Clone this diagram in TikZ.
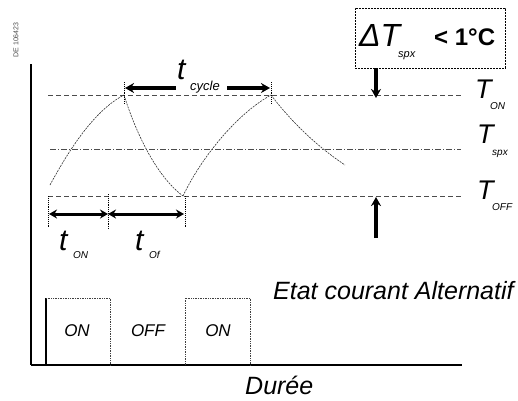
\documentclass[tikz,border=0pt]{standalone}
\usepackage{fontspec}
\setmainfont{Liberation Sans}
\usetikzlibrary{arrows.meta}
\begin{document}
\begin{tikzpicture}[x=1pt,y=-1pt,
  axis/.style={line width=1.8pt,black},
  wave/.style={densely dotted,line width=0.7pt,black!75},
  level/.style={dash pattern=on 5pt off 3pt,line width=0.5pt,black!70},
  levelsp/.style={dash pattern=on 6pt off 2pt on 1pt off 2pt,line width=0.5pt,black!70},
  curve/.style={dash pattern=on 2pt off 1pt,line width=0.6pt,black!80},
  marker/.style={densely dotted,line width=0.9pt,black},
  bigarrow/.style={line width=3.2pt,arrows={-Stealth[length=9pt,width=10pt]}},
  twoheads/.style={solid,line width=3pt,arrows={Stealth[length=8pt,width=9pt]-Stealth[length=8pt,width=9pt]}},
  lab/.style={inner sep=0pt,anchor=base west,font=\itshape},
  boxtxt/.style={inner sep=0pt,font=\itshape\fontsize{17}{20}\selectfont}]
\useasboundingbox (0,0) rectangle (518,400);

% vertical reference text
\node[rotate=90,inner sep=0pt,font=\fontsize{7}{8}\selectfont,black!70] (ref) at (16,40) {DE 106423};

% axes
\coordinate (axtop) at (31,64);
\coordinate (axorig) at (31,365);
\coordinate (axend) at (462,365);
\draw[axis] (axtop) -- (axorig);
\draw[line width=1.2pt] (axorig) -- (axend);

% square wave
\coordinate (w0) at (46,365);
\coordinate (w1) at (46,298);
\coordinate (w2) at (110,298);
\coordinate (w3) at (110,365);
\coordinate (w5) at (185,365);
\coordinate (w6) at (185,298);
\coordinate (w7) at (250,298);
\coordinate (w8) at (250,365);
\draw[axis] (w0) -- (w1);
\draw[wave] (w1) -- (w2) -- (w3);
\draw[wave] (w5) -- (w6) -- (w7) -- (w8);
\node[boxtxt] (on1) at (77,331) {ON};
\node[boxtxt] (off1) at (148,331) {OFF};
\node[boxtxt] (on2) at (218,331) {ON};

% temperature levels
\coordinate (lon1) at (48,95);   \coordinate (lon2) at (461,95);
\coordinate (lsp1) at (50,149);  \coordinate (lsp2) at (461,149);
\coordinate (loff1) at (48,196); \coordinate (loff2) at (461,196);
\draw[level] (lon1) -- (lon2);
\draw[levelsp] (lsp1) -- (lsp2);
\draw[level] (loff1) -- (loff2);

% temperature curve
\coordinate (p0) at (50,185);
\coordinate (p1) at (124,95);
\coordinate (p2) at (183,196);
\coordinate (p3) at (271,95);
\coordinate (p4) at (345,165);
\draw[curve] (p0) .. controls (70,148) and (95,110) .. (p1);
\draw[curve] (p1) .. controls (135,130) and (155,175) .. (p2);
\draw[curve] (p2) .. controls (200,160) and (235,115) .. (p3);
\draw[curve] (p3) .. controls (290,120) and (315,145) .. (p4);

% cycle markers
\coordinate (mc1a) at (124,82); \coordinate (mc1b) at (124,104);
\coordinate (mc2a) at (271,82); \coordinate (mc2b) at (271,104);
\draw[marker] (mc1a) -- (mc1b);
\draw[marker] (mc2a) -- (mc2b);
\coordinate (cl) at (176,88); \coordinate (ca) at (125,88);
\coordinate (cr) at (227,88); \coordinate (cb) at (270,88);
\draw[bigarrow] (cl) -- (ca);
\draw[bigarrow] (cr) -- (cb);
\node[lab,font=\itshape\fontsize{30}{32}\selectfont] (tc) at (177,79) {t};
\node[lab,font=\itshape\fontsize{13}{14}\selectfont] (tcs) at (190,90) {cycle};

% t_ON / t_OFF markers
\coordinate (ma1) at (48,196);  \coordinate (ma2) at (48,228);
\coordinate (mb1) at (108,194); \coordinate (mb2) at (108,230);
\coordinate (md1) at (185,196); \coordinate (md2) at (185,228);
\draw[marker] (ma1) -- (ma2);
\draw[marker] (mb1) -- (mb2);
\draw[marker] (md1) -- (md2);
\coordinate (da) at (49,214); \coordinate (db) at (108,214); \coordinate (dd) at (184,214);
\draw[twoheads] (da) -- (db);
\draw[twoheads] (db) -- (dd);
\node[lab,font=\itshape\fontsize{30}{32}\selectfont] (ton) at (59,250) {t};
\node[lab,font=\itshape\fontsize{10}{11}\selectfont] (tons) at (73,258) {ON};
\node[lab,font=\itshape\fontsize{30}{32}\selectfont] (toff) at (135,250) {t};
\node[lab,font=\itshape\fontsize{10}{11}\selectfont] (toffs) at (149,258) {Of};

% Delta T box
\node[draw,dash pattern=on 2pt off 1pt,line width=0.7pt,minimum width=150pt,minimum height=60pt,inner sep=0pt] (dt) at (430,38) {};
\node[lab,font=\itshape\fontsize{32}{34}\selectfont] (dtt) at (359,46) {ΔT};
\node[lab,font=\itshape\fontsize{11}{12}\selectfont] (dts) at (398,57) {spx};
\node[lab,font=\bfseries\fontsize{24}{26}\selectfont] (dtv) at (434,45) {< 1°C};
\coordinate (dwn1) at (376,68); \coordinate (dwn2) at (376,98);
\draw[bigarrow] (dwn1) -- (dwn2);
\coordinate (up1) at (376,238); \coordinate (up2) at (376,197);
\draw[bigarrow] (up1) -- (up2);

% right labels
\node[lab,font=\itshape\fontsize{27}{28}\selectfont] (Ton) at (475,98) {T};
\node[lab,font=\itshape\fontsize{10}{11}\selectfont] (Tons) at (490,109) {ON};
\node[lab,font=\itshape\fontsize{27}{28}\selectfont] (Tsp) at (477,143) {T};
\node[lab,font=\itshape\fontsize{10}{11}\selectfont] (Tsps) at (492,155) {spx};
\node[lab,font=\itshape\fontsize{27}{28}\selectfont] (Toff) at (477,199) {T};
\node[lab,font=\itshape\fontsize{10}{11}\selectfont] (Toffs) at (492,210) {OFF};

% captions
\node[lab,font=\itshape\fontsize{25}{27}\selectfont] (etat) at (273,299) {Etat courant Alternatif};
\node[lab,font=\itshape\fontsize{25}{27}\selectfont] (duree) at (245,394) {Durée};
\end{tikzpicture}
\end{document}
